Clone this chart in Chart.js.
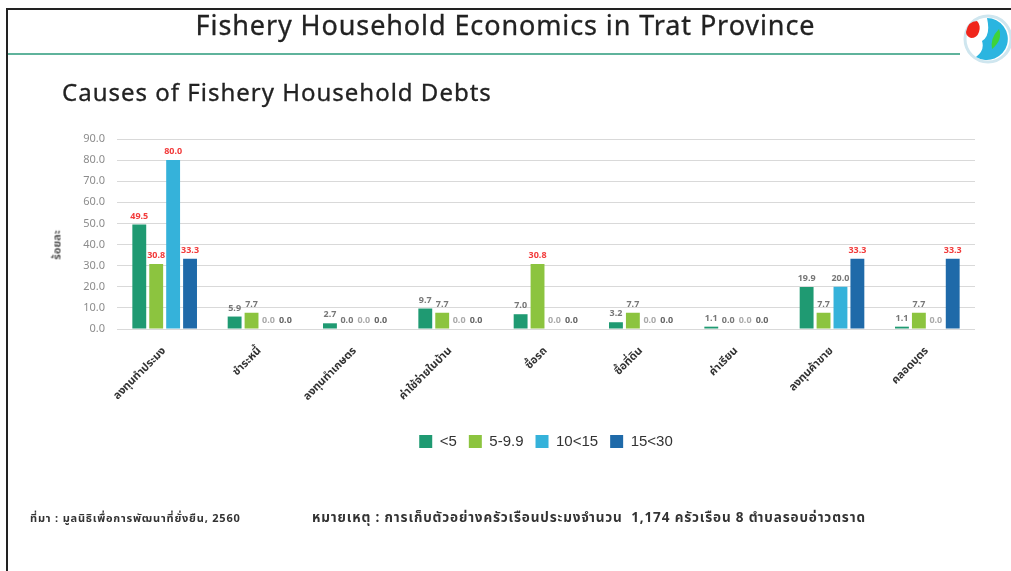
<!DOCTYPE html>
<html>
<head>
<meta charset="utf-8">
<script src="https://cdn.jsdelivr.net/npm/chart.js@4.4.1/dist/chart.umd.min.js"></script>
<style>
  html, body { margin: 0; padding: 0; background: #fff; }
  #wrap { position: relative; width: 1011px; height: 571px; overflow: hidden; background: #fff; }
  #c { position: absolute; left: 0; top: 0; }
  .topline { position: absolute; left: 6px; top: 8px; width: 1005px; height: 2px; background: #222; }
  .leftline { position: absolute; left: 6px; top: 8px; width: 2px; height: 563px; background: #222; }
  .greenline { position: absolute; left: 8px; top: 53px; width: 952px; height: 2px; background: #5fb39c; }
  .title { position: absolute; left: 0; width: 1011px; top: 6px; text-align: center; font-family: "Noto Sans", Lato, sans-serif; font-size: 27px; color: #222; letter-spacing: 0.9px; -webkit-text-stroke: 0.3px #222; }
  .subtitle { position: absolute; left: 62px; top: 75px; font-family: "Noto Sans", Lato, sans-serif; font-size: 24px; color: #222; letter-spacing: 1.0px; -webkit-text-stroke: 0.3px #222; }
  .ytitle { position: absolute; left: 57px; top: 245px; transform: translate(-50%, -50%) rotate(-90deg); font-family: "Noto Sans Thai", "Noto Sans", sans-serif; font-size: 11px; font-weight: bold; color: #555; white-space: nowrap; }
  .foot1 { position: absolute; left: 30px; top: 510px; font-family: "Noto Sans Thai", "Noto Sans", sans-serif; font-size: 11px; font-weight: bold; color: #333; white-space: nowrap; letter-spacing: 0.8px; }
  .foot2 { position: absolute; left: 312px; top: 508px; font-family: "Noto Sans Thai", "Noto Sans", sans-serif; font-size: 13.5px; font-weight: bold; color: #333; white-space: nowrap; letter-spacing: 0.85px; }
  .logo { position: absolute; left: 960px; top: 12px; }
</style>
</head>
<body>
<div id="wrap">
  <canvas id="c" width="1011" height="571"></canvas>
  <div class="topline"></div>
  <div class="leftline"></div>
  <div class="greenline"></div>
  <div class="title">Fishery Household Economics in Trat Province</div>
  <div class="subtitle">Causes of Fishery Household Debts</div>
  <div class="ytitle">ร้อยละ</div>
  <div class="foot1">ที่มา : มูลนิธิเพื่อการพัฒนาที่ยั่งยืน, 2560</div>
  <div class="foot2">หมายเหตุ : การเก็บตัวอย่างครัวเรือนประมงจำนวน&nbsp; 1,174 ครัวเรือน 8 ตำบลรอบอ่าวตราด</div>
  <svg class="logo" width="52" height="54" viewBox="0 0 52 54">
    <circle cx="28" cy="27" r="23" fill="none" stroke="#cfe6ef" stroke-width="3"/>
    <path d="M27 6 A21 21 0 1 1 16 45 Q25 38 22 29 Q31 24 27 6 Z" fill="#2bb5e0"/>
    <path d="M6 20 Q8 9 17 9 Q21 13 19 20 Q17 26 11 26 Q6 24 6 20 Z" fill="#f0261c"/>
    <path d="M32 37 Q30 26 39 17 Q43 28 32 37 Z" fill="#3ed33a"/>
  </svg>
</div>
<script>
const categories = ["ลงทุนทำประมง", "ชำระหนี้", "ลงทุนทำเกษตร", "ค่าใช้จ่ายในบ้าน", "ซื้อรถ", "ซื้อที่ดิน", "ค่าเรียน", "ลงทุนค้าขาย", "คลอดบุตร"];
const seriesNames = ["<5", "5-9.9", "10<15", "15<30"];
const lt5     = [49.5, 5.9, 2.7, 9.7, 7.0, 3.2, 1.1, 19.9, 1.1];
const s5to9   = [30.8, 7.7, 0.0, 7.7, 30.8, 7.7, 0.0, 7.7, 7.7];
const s10to15 = [80.0, 0.0, 0.0, 0.0, 0.0, 0.0, 0.0, 20.0, 0.0];
const s15to30 = [33.3, 0.0, 0.0, 0.0, 0.0, 0.0, 0.0, 33.3, 33.3];
const yTicks  = [0, 10, 20, 30, 40, 50, 60, 70, 80, 90];

const colors = ["#1f9a72", "#8cc43f", "#35b2da", "#1f6aa9"];
const zeroLabelColors = ["#777", "#777", "#aaa", "#666"];

const dataLabels = {
  id: "dataLabels",
  afterDatasetsDraw(chart) {
    const ctx = chart.ctx;
    ctx.save();
    ctx.textAlign = "center";
    ctx.textBaseline = "bottom";
    chart.data.datasets.forEach((ds, di) => {
      const meta = chart.getDatasetMeta(di);
      meta.data.forEach((bar, i) => {
        const v = ds.data[i];
        let col;
        if (v >= 30) col = "#f23b3b";
        else if (v === 0) col = zeroLabelColors[di];
        else col = "#777";
        ctx.fillStyle = col;
        ctx.font = "bold 9px 'Noto Sans', sans-serif";
        ctx.fillText(v.toFixed(1), bar.x, bar.y - 4);
      });
    });
    ctx.restore();
  }
};

new Chart(document.getElementById("c"), {
  type: "bar",
  data: {
    labels: categories,
    datasets: [lt5, s5to9, s10to15, s15to30].map((d, i) => ({
      label: seriesNames[i],
      data: d,
      backgroundColor: colors[i],
      borderWidth: 0,
      barPercentage: 0.82,
      categoryPercentage: 0.71
    }))
  },
  options: {
    responsive: false,
    animation: false,
    layout: { padding: { left: 60, top: 139, right: 36, bottom: 112 } },
    plugins: {
      legend: {
        position: "bottom",
        fullSize: false,
        labels: {
          boxWidth: 13, boxHeight: 13, padding: 12,
          color: "#333",
          font: { family: "'Liberation Sans', Arial, sans-serif", size: 15 }
        }
      },
      tooltip: { enabled: false },
      title: { display: false }
    },
    scales: {
      x: {
        grid: { display: false },
        border: { display: false },
        ticks: {
          minRotation: 45, maxRotation: 45, padding: 8,
          color: "#333",
          font: { family: "'Noto Sans Thai', 'Noto Sans', sans-serif", size: 11, weight: "bold" }
        },
        afterFit: s => { s.height = 93; }
      },
      y: {
        min: 0, max: 90,
        afterBuildTicks: s => { s.ticks = yTicks.map(v => ({ value: v })); },
        grid: { color: "#d9d9d9", drawTicks: false },
        border: { display: false },
        ticks: {
          padding: 12,
          color: "#8c8c8c",
          font: { family: "'Noto Sans', sans-serif", size: 11 },
          callback: v => Number(v).toFixed(1)
        },
        afterFit: s => { s.width = 57; }
      }
    }
  },
  plugins: [dataLabels]
});
</script>
</body>
</html>
